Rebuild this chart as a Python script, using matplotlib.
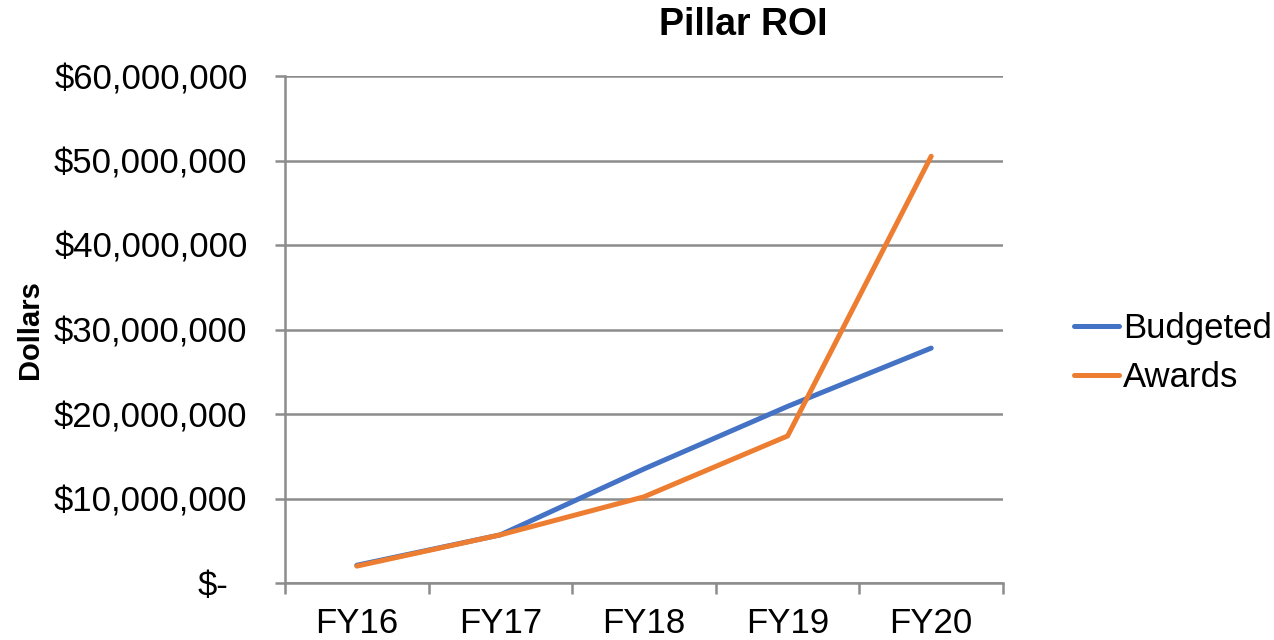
import numpy as np
import matplotlib.pyplot as plt
import matplotlib.transforms as mtransforms
from matplotlib.ticker import FixedLocator

plt.rcParams['font.family'] = ['Liberation Sans', 'DejaVu Sans']

# data
years = ['FY16', 'FY17', 'FY18', 'FY19', 'FY20']
budgeted = [2.1e6, 5.7e6, 13.5e6, 20.9e6, 27.8e6]
awards = [2.0e6, 5.7e6, 10.2e6, 17.4e6, 50.5e6]
y_ticks = [0, 10e6, 20e6, 30e6, 40e6, 50e6, 60e6]

blue = '#4472C4'
orange = '#ED7D31'
grid_col = '#8C8C8C'

fig = plt.figure(figsize=(12.74, 6.4), dpi=100)
ax = fig.add_axes([285 / 1274, 1 - 583 / 640, 718 / 1274, 507 / 640])

x = np.arange(len(years))
ax.plot(x, budgeted, color=blue, lw=3.6, solid_capstyle='round', label='Budgeted', zorder=3)
ax.plot(x, awards, color=orange, lw=3.6, solid_capstyle='round', label='Awards', zorder=4)

ax.set_xlim(-0.5, len(years) - 0.5)
ax.set_ylim(0, 60e6)

# y axis
ax.set_yticks(y_ticks)
ax.set_yticklabels(['$-'] + ['${:,.0f}'.format(v) for v in y_ticks[1:]])
ax.yaxis.grid(True, color=grid_col, lw=1.8)
ax.set_axisbelow(True)
ax.tick_params(axis='y', length=7, width=1.8, color=grid_col, pad=20, labelsize=25)

# x axis: labels at centres, ticks at category edges
ax.set_xticks(x)
ax.set_xticklabels(years)
ax.xaxis.set_minor_locator(FixedLocator(np.arange(-0.5, len(years), 1.0)))
ax.tick_params(axis='x', which='major', length=0, pad=17, labelsize=25)
ax.tick_params(axis='x', which='minor', length=8, width=1.8, color=grid_col)

for side in ['top', 'right']:
    ax.spines[side].set_visible(False)
for side in ['left', 'bottom']:
    ax.spines[side].set_color(grid_col)
    ax.spines[side].set_linewidth(1.8)

# accounting style: the "$-" sits a little left of the others
zero_lab = ax.get_yticklabels()[0]
zero_lab.set_transform(zero_lab.get_transform() +
                       mtransforms.ScaledTranslation(-0.19, 0, fig.dpi_scale_trans))

fig.text(743 / 1274, 1 - 25 / 640, 'Pillar ROI', ha='center', va='center',
         fontsize=27, fontweight='bold')
fig.text(30 / 1274, 1 - 330 / 640, 'Dollars', ha='center', va='center',
         rotation=90, fontsize=21, fontweight='bold')

fig.legend(loc='center left', bbox_to_anchor=(1074 / 1274, 1 - 353 / 640),
           frameon=False, fontsize=25, handlelength=1.3, handletextpad=0.12,
           labelspacing=0.45, borderaxespad=0, borderpad=0)

fig.savefig('out.png', dpi=100)
